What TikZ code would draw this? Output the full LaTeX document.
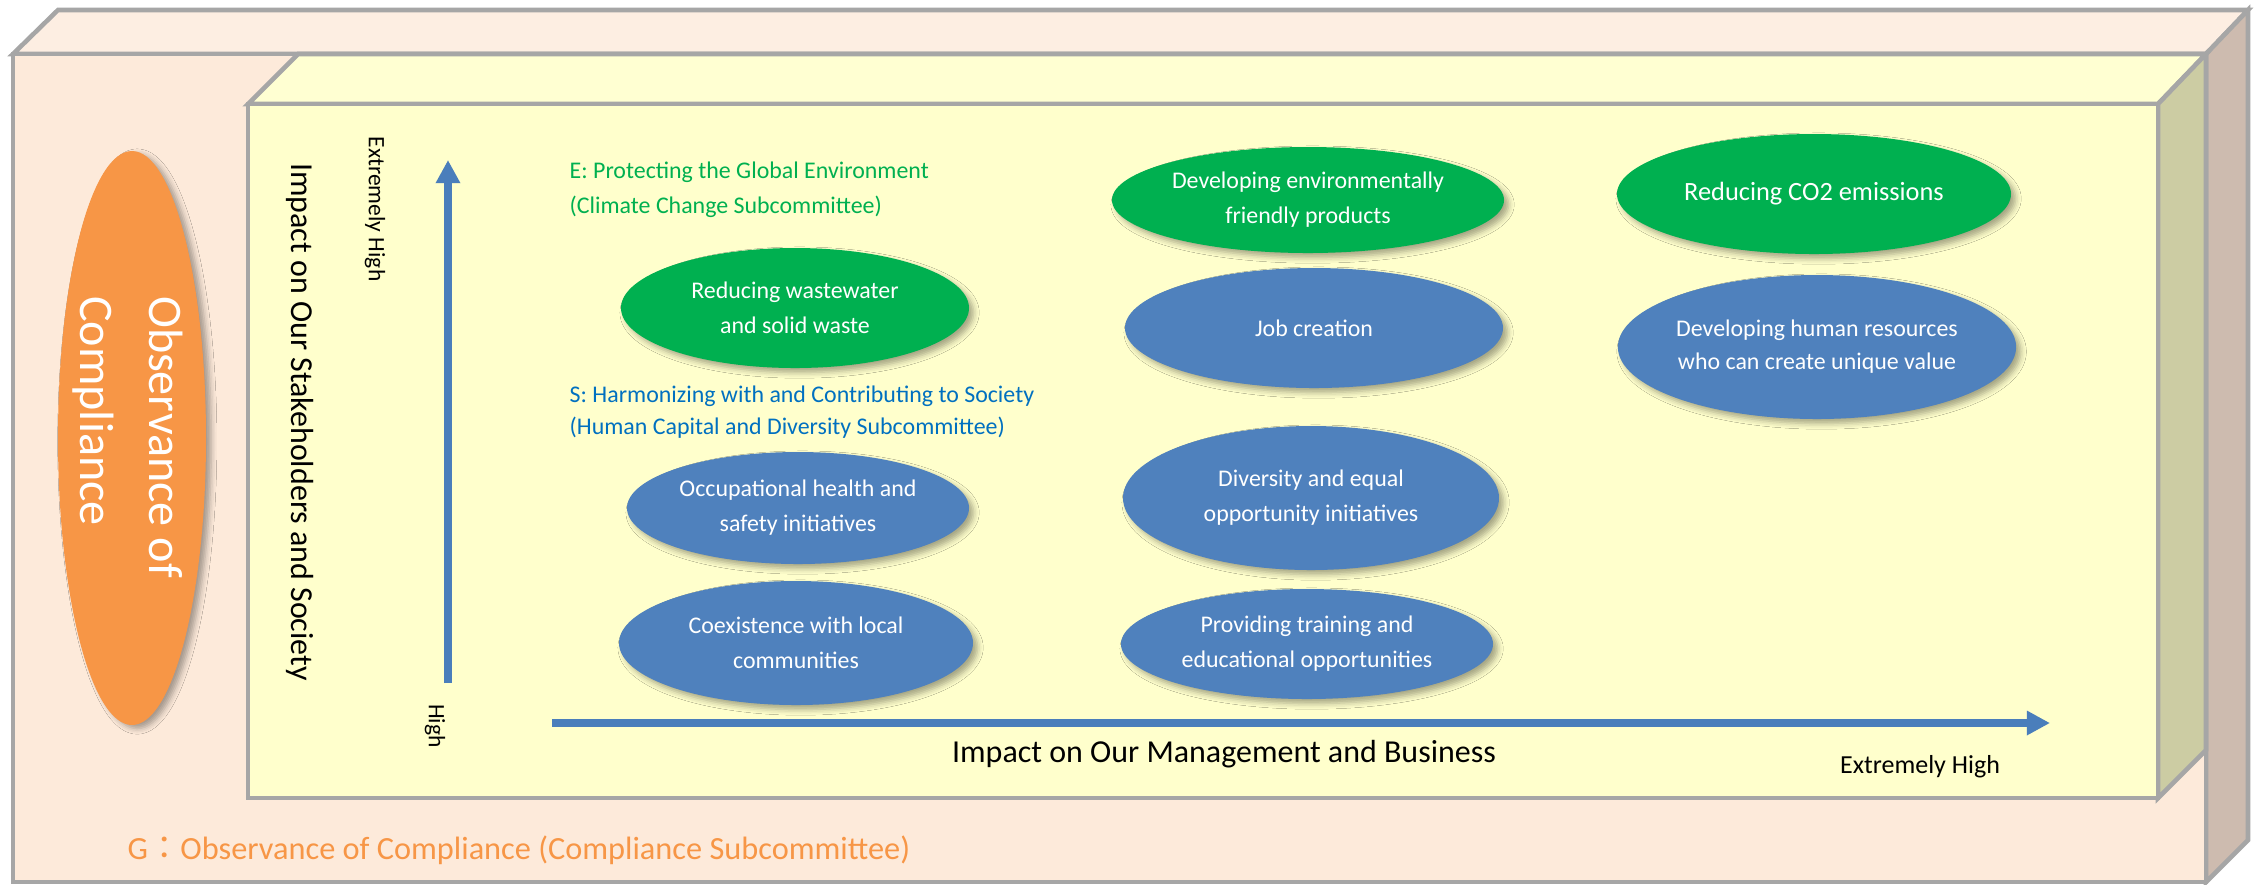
\documentclass[tikz,border=0pt]{standalone}
\usepackage{fontspec}
\setmainfont{Carlito}
\newfontfamily\cjkfont{Noto Sans CJK JP}
\usetikzlibrary{shapes.geometric,arrows.meta,shadows.blur}
\definecolor{edgegray}{HTML}{A6A6A6}
\definecolor{peachfront}{HTML}{FDEADA}
\definecolor{peachtop}{HTML}{FDEEE2}
\definecolor{peachside}{HTML}{CDBBAF}
\definecolor{lemonfront}{HTML}{FFFFCC}
\definecolor{lemontop}{HTML}{FFFFD2}
\definecolor{lemonside}{HTML}{CCCCA3}
\definecolor{envgreen}{HTML}{00B050}
\definecolor{socblue}{HTML}{4F81BD}
\definecolor{headblue}{HTML}{0070C0}
\definecolor{govorange}{HTML}{F79646}
\definecolor{axisblue}{HTML}{4A7EBB}

\begin{document}
\begin{tikzpicture}[x=0.1mm, y=-0.1mm,
  face/.style={draw=edgegray, line width=1.3pt},
  bubble/.style={ellipse, inner sep=0pt, text=white, align=center,
    font=\fontsize{6.8}{10}\selectfont,
    blur shadow={shadow xshift=1.3pt, shadow yshift=-1.3pt, shadow blur radius=1.6pt, shadow opacity=35}},
  env/.style={bubble, fill=envgreen},
  soc/.style={bubble, fill=socblue},
  axis/.style={draw=axisblue, line width=2.1pt, -{Triangle[width=6.6pt,length=6.6pt]}},
  axlabel/.style={inner sep=0pt, font=\fontsize{9.1}{11}\selectfont},
  tick/.style={inner sep=0pt, font=\fontsize{6.7}{8}\selectfont},
  head/.style={inner sep=0pt, anchor=west, align=left}]
  \useasboundingbox (0,0) rectangle (2260,884);
  \fill[white] (0,0) rectangle (2260,884);
  % outer box (G)
  \filldraw[face, fill=peachtop] (13,54) -- (58,10) -- (2248,10) -- (2206,54) -- cycle;
  \filldraw[face, fill=peachside] (2206,54) -- (2248,10) -- (2248,840) -- (2206,882) -- cycle;
  \filldraw[face, fill=peachfront] (13,54) rectangle (2206,882);
  % inner box (E and S)
  \filldraw[face, fill=lemontop] (248,104) -- (298,54) -- (2206,54) -- (2158,104) -- cycle;
  \filldraw[face, fill=lemonside] (2158,104) -- (2206,54) -- (2206,750) -- (2158,798) -- cycle;
  \filldraw[face, fill=lemonfront] (248,104) rectangle (2158,798);

  \node[ellipse, fill=govorange, minimum width=14.8mm, minimum height=57.4mm,
    blur shadow={shadow xshift=1.5pt, shadow yshift=-1pt, shadow blur radius=1.6pt, shadow opacity=35}] (comp) at (132,438) {};
  \node[rotate=-90, align=left, text=white, inner sep=0pt, font=\fontsize{13.7}{19.6}\selectfont] (comptext) at (128,437) {Observance of\\Compliance};

  % axes
  \coordinate (y0) at (448,683);
  \coordinate (y1) at (448,160);
  \coordinate (x0) at (552,723);
  \coordinate (x1) at (2050,723);
  \draw[axis] (y0) -- (y1);
  \draw[axis] (x0) -- (x1);
  \node[axlabel, rotate=-90] (ylab) at (300,422) {Impact on Our Stakeholders and Society};
  \node[tick, rotate=-90] (yhigh) at (375,209) {Extremely High};
  \node[tick, rotate=-90] (ylow) at (435,726) {High};
  \node[axlabel] (xlab) at (1224,754) {Impact on Our Management and Business};
  \node[tick, font=\fontsize{7.4}{9}\selectfont] (xhigh) at (1920,767) {Extremely High};

  % headings
  \node[head, text=envgreen, font=\fontsize{6.8}{10}\selectfont] (ehead) at (569,190)
    {E: Protecting the Global Environment\\(Climate Change Subcommittee)};
  \node[head, text=headblue, font=\fontsize{6.8}{9.1}\selectfont] (shead) at (569,412)
    {S: Harmonizing with and Contributing to Society\\(Human Capital and Diversity Subcommittee)};
  \node[head, text=govorange, font=\fontsize{9.2}{11}\selectfont] (ghead) at (127,850)
    {G{\cjkfont ：}Observance of Compliance (Compliance Subcommittee)};

  % issues
  \node[env, minimum width=34.8mm, minimum height=12mm] (waste) at (795,308) {Reducing wastewater\\and solid waste};
  \node[soc, minimum width=34.2mm, minimum height=11.2mm] (safety) at (798,508) {Occupational health and\\safety initiatives};
  \node[soc, minimum width=35.4mm, minimum height=12.4mm] (local) at (796,643) {Coexistence with local\\communities};
  \node[env, minimum width=39.2mm, minimum height=10.6mm] (products) at (1308,200) {Developing environmentally\\friendly products};
  \node[soc, minimum width=37.8mm, minimum height=12mm] (jobs) at (1314,328) {Job creation};
  \node[soc, minimum width=37.6mm, minimum height=14.4mm] (diversity) at (1311,498) {Diversity and equal\\opportunity initiatives};
  \node[soc, minimum width=37.2mm, minimum height=11mm] (training) at (1307,644) {Providing training and\\educational opportunities};
  \node[env, minimum width=39.4mm, minimum height=12mm, font=\fontsize{7.5}{10}\selectfont] (co2) at (1814,194) {Reducing CO2 emissions};
  \node[soc, minimum width=37.8mm, minimum height=14.4mm, font=\fontsize{6.8}{9.4}\selectfont] (talent) at (1817,347) {Developing human resources\\who can create unique value};
\end{tikzpicture}
\end{document}
